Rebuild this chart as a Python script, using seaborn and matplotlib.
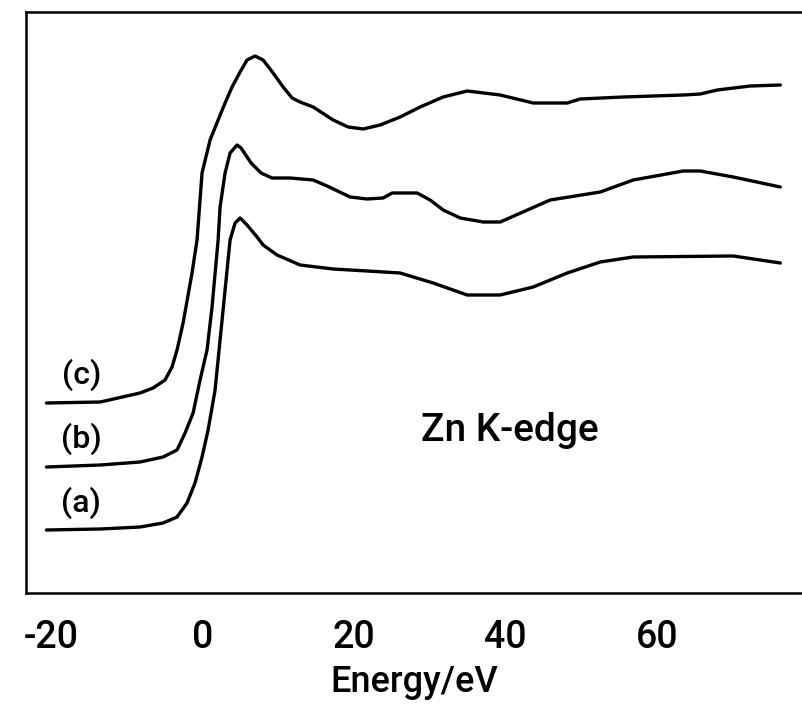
import numpy as np
import pandas as pd
import matplotlib
matplotlib.use("Agg")
import matplotlib.pyplot as plt
import seaborn as sns

# ---- data (energy in eV, normalised absorbance with vertical offsets) ----
energy_c = [-20.6, -13.5, -8.25, -6.53, -4.95, -4.03, -3.37, -2.57, -1.39, -0.73,
            -0.07, 0.99, 2.05, 2.97, 3.89, 4.95, 5.87, 6.93, 7.99, 9.31,
            10.63, 11.82, 12.87, 14.59, 17.23, 19.21, 21.19, 23.43, 26.07, 28.71,
            31.75, 34.92, 39.27, 43.63, 48.12, 49.83, 55.51, 63.43, 65.68, 67.92,
            72.28, 76.24]
absorb_c = [1.90, 1.91, 2.00, 2.05, 2.13, 2.26, 2.43, 2.70, 3.20, 3.53,
            4.20, 4.53, 4.73, 4.90, 5.06, 5.21, 5.33, 5.37, 5.33, 5.20,
            5.06, 4.95, 4.91, 4.86, 4.73, 4.66, 4.64, 4.68, 4.76, 4.86,
            4.96, 5.02, 4.98, 4.90, 4.90, 4.94, 4.96, 4.98, 4.99, 5.03,
            5.07, 5.08]

energy_b = [-20.6, -13.5, -8.25, -5.21, -3.37, -2.31, -1.25, -0.33, 0.59, 1.25,
            2.05, 2.31, 2.97, 3.63, 4.55, 5.08, 6.40, 7.72, 9.17, 11.55,
            14.59, 16.43, 19.47, 21.72, 23.83, 25.02, 28.32, 30.03, 31.75, 34.0,
            37.03, 39.27, 45.87, 52.48, 56.83, 63.43, 65.68, 70.03, 76.24]
absorb_b = [1.26, 1.28, 1.31, 1.36, 1.43, 1.60, 1.80, 2.13, 2.43, 2.86,
            3.53, 3.86, 4.20, 4.40, 4.48, 4.45, 4.30, 4.20, 4.15, 4.15,
            4.13, 4.07, 3.96, 3.94, 3.95, 4.00, 4.00, 3.93, 3.83, 3.75,
            3.71, 3.71, 3.93, 4.01, 4.13, 4.22, 4.22, 4.16, 4.06]

energy_a = [-20.6, -13.5, -8.25, -5.21, -3.37, -2.05, -1.00, -0.07, 0.73, 1.65,
            2.31, 2.97, 3.63, 4.29, 4.95, 5.87, 7.19, 7.99, 9.83, 12.87,
            17.23, 21.72, 26.07, 30.43, 34.92, 39.27, 43.63, 48.12, 52.48, 56.83,
            70.03, 76.24]
absorb_a = [0.63, 0.64, 0.66, 0.70, 0.76, 0.90, 1.10, 1.36, 1.63, 2.03,
            2.53, 3.03, 3.53, 3.70, 3.75, 3.68, 3.56, 3.48, 3.38, 3.28,
            3.24, 3.22, 3.20, 3.10, 2.98, 2.98, 3.06, 3.20, 3.31, 3.36,
            3.37, 3.30]

curve_labels = ["(a)", "(b)", "(c)"]
label_y = [0.90, 1.54, 2.18]
xtick_values = [-20, 0, 20, 40, 60]
xtick_labels = ["-20", "0", "20", "40", "60"]

df = pd.concat([
    pd.DataFrame({"Energy": energy_a, "Absorbance": absorb_a, "sample": "(a)"}),
    pd.DataFrame({"Energy": energy_b, "Absorbance": absorb_b, "sample": "(b)"}),
    pd.DataFrame({"Energy": energy_c, "Absorbance": absorb_c, "sample": "(c)"}),
], ignore_index=True)

sns.set_style("white")
plt.rcParams["font.family"] = ["Roboto", "DejaVu Sans"]
plt.rcParams["text.color"] = "black"
plt.rcParams["axes.labelcolor"] = "black"
plt.rcParams["xtick.color"] = "black"

fig = plt.figure(figsize=(8.02, 7.04), dpi=100)
ax = fig.add_axes([26 / 802, 111 / 704, 776 / 802, 581 / 704])

sns.lineplot(data=df, x="Energy", y="Absorbance", units="sample", estimator=None, sort=False,
             color="black", linewidth=2.4, ax=ax, legend=False)
for ln in ax.lines:
    ln.set_solid_joinstyle("round")
    ln.set_solid_capstyle("round")

ax.set_xlim(-23.3, 79.1)
ax.set_ylim(0, 5.81)
ax.set_yticks([])
ax.set_xticks(xtick_values)
ax.set_xticklabels(xtick_labels)
ax.tick_params(axis="x", direction="out", length=8, width=1.8, pad=11, labelsize=27, colors="black")
for t in ax.get_xticklabels():
    t.set_fontweight("medium")
for side in ["left", "top", "bottom"]:
    ax.spines[side].set_linewidth(1.8)
    ax.spines[side].set_color("black")
ax.spines["right"].set_visible(False)
ax.set_xlabel("Energy/eV", fontsize=26, labelpad=6, fontweight="medium")
ax.set_ylabel("")

for lab, y in zip(curve_labels, label_y):
    ax.text(-16.0, y, lab, fontsize=23, ha="center", va="center", fontweight="medium")

ax.text(40.5, 1.62, "Zn K-edge", fontsize=28, ha="center", va="center", fontweight="medium")

fig.savefig("out.png", dpi=100, facecolor="white")
